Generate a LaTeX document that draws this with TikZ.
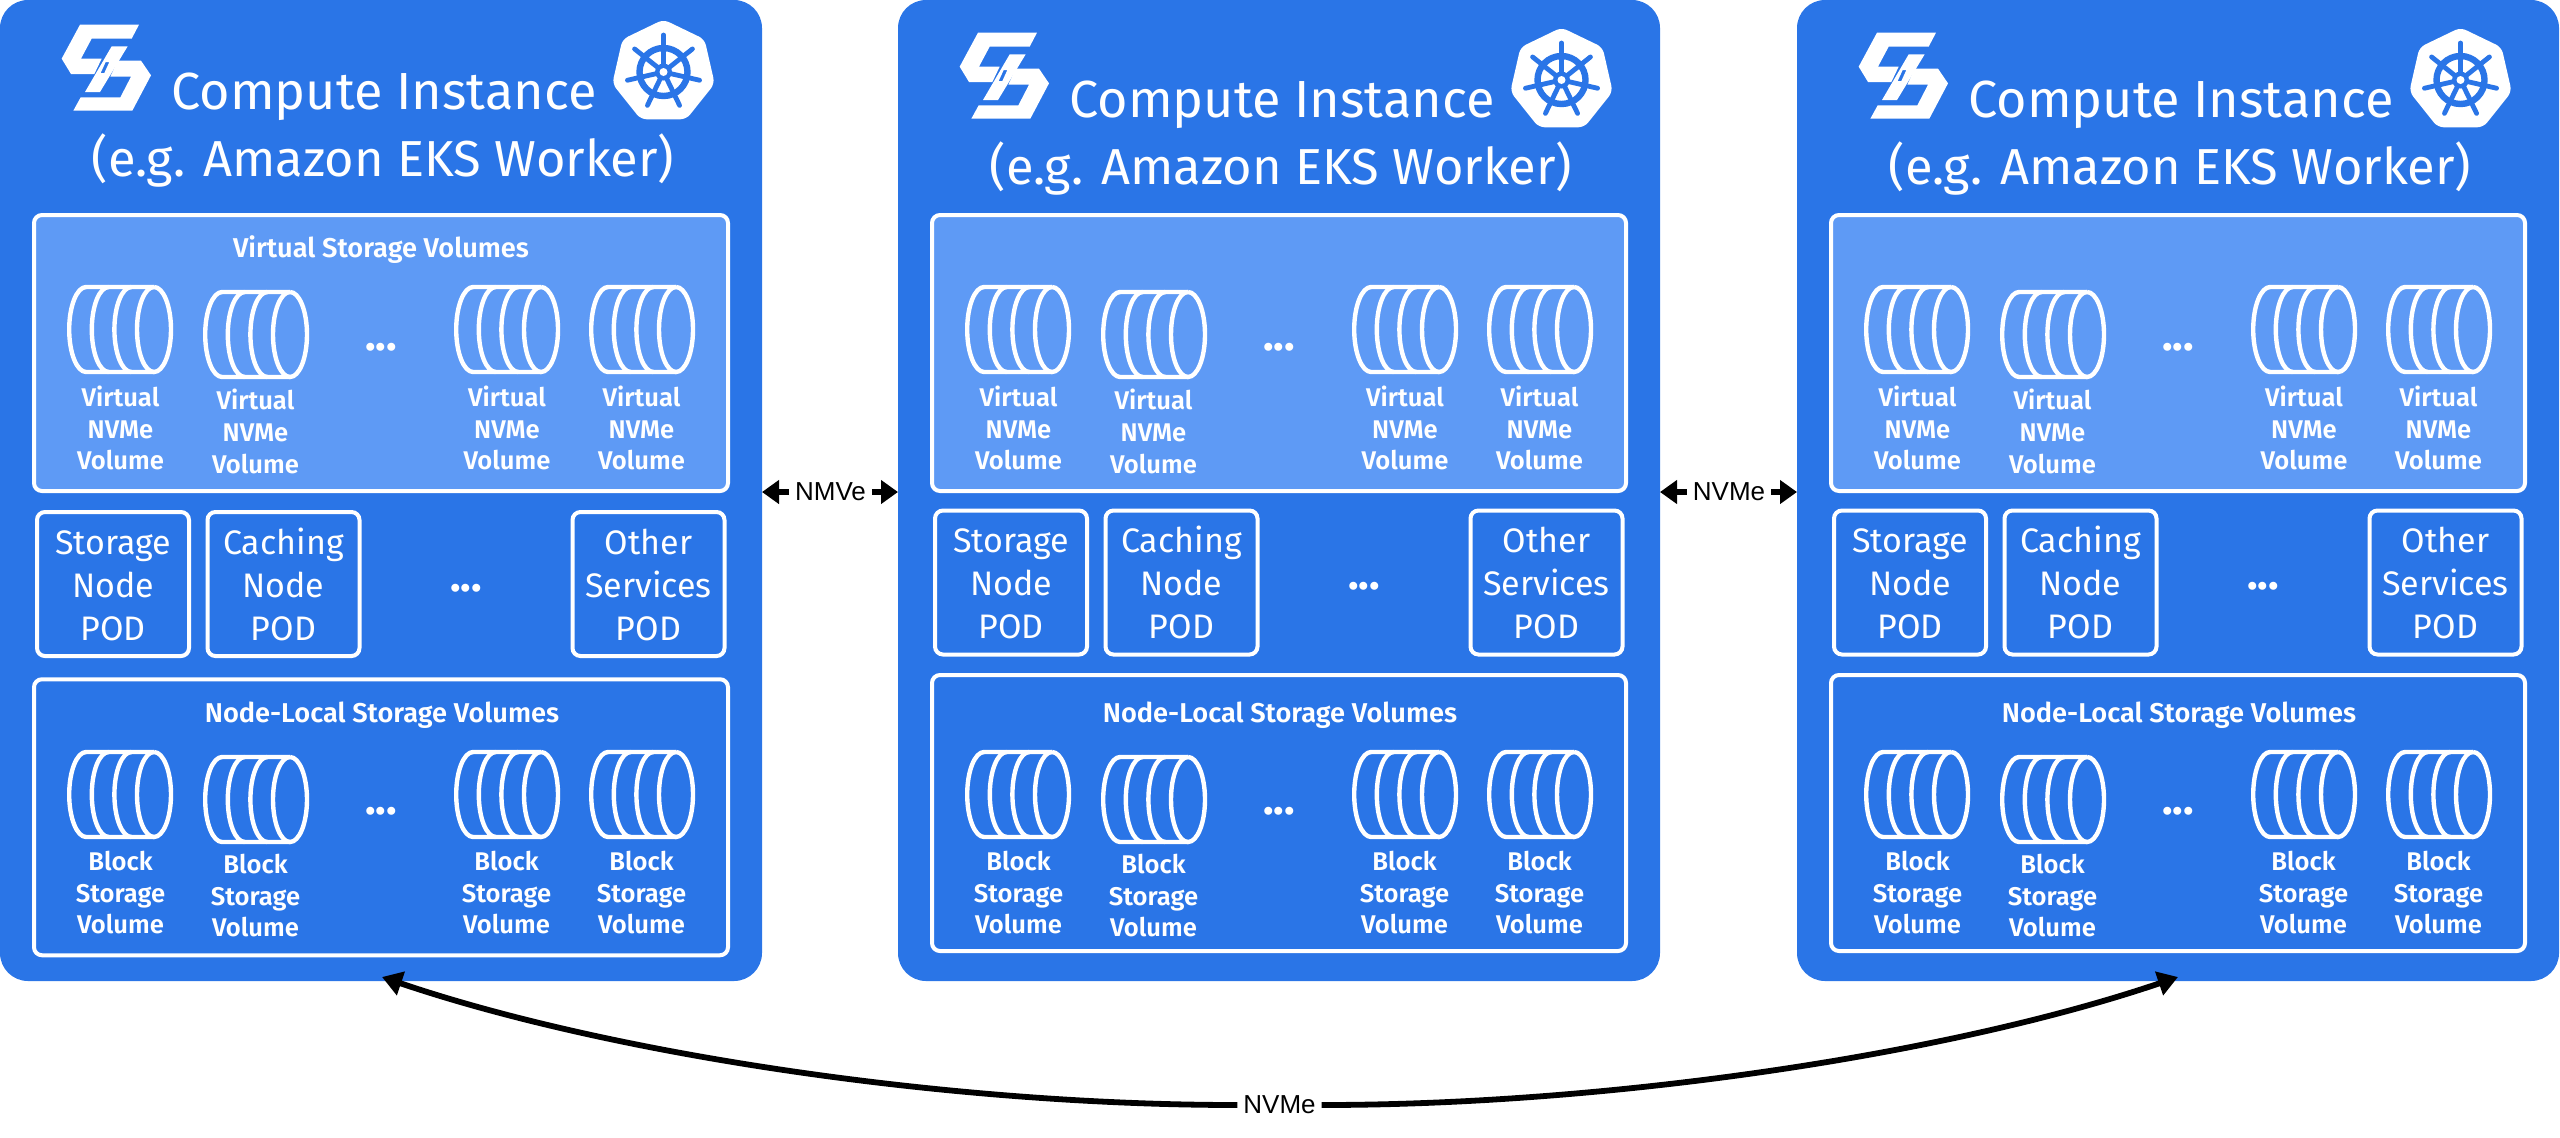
\documentclass[tikz,border=0pt]{standalone}
\usepackage{fontspec}
\usetikzlibrary{arrows.meta,calc}
\setmainfont{Fira Sans}
\newfontfamily\semib{Fira Sans SemiBold}
\newfontfamily\arr{Liberation Sans}
\definecolor{panelblue}{HTML}{2A75E7}
\definecolor{lightblue}{HTML}{5E9AF5}
\newcommand{\podtop}{\rule{0pt}{13.5pt}}
\tikzset{
  panelbox/.style={rectangle,fill=panelblue,rounded corners=14pt,minimum width=381pt,minimum height=490.5pt,inner sep=0pt,outer sep=0pt},
  framebox/.style={rectangle,draw=white,line width=2pt,rounded corners=4pt,minimum width=347pt,minimum height=138pt,inner sep=0pt,outer sep=0pt},
  podbox/.style={rectangle,draw=white,line width=2pt,rounded corners=4pt,minimum width=76pt,minimum height=72pt,inner sep=0pt,outer sep=0pt,
    text=white,align=center,font=\fontsize{17}{21.5}\selectfont},
  titletext/.style={anchor=base,text=white,inner sep=0pt,font=\fontsize{26.1}{30}\selectfont},
  subtext/.style={anchor=base,text=white,inner sep=0pt,font=\fontsize{25.3}{30}\selectfont},
  headtext/.style={anchor=base,text=white,inner sep=0pt,font=\semib\fontsize{13.6}{15}\selectfont},
  voltext/.style={anchor=base,text=white,inner sep=0pt,font=\semib\fontsize{12.8}{15}\selectfont},
  dotstext/.style={anchor=base,text=white,inner sep=0pt,font=\bfseries\fontsize{22}{24}\selectfont},
  cylline/.style={draw=white,line width=2.2pt},
  linklabel/.style={text=black,inner ysep=0pt,inner xsep=3pt,outer sep=0pt,font=\arr\fontsize{13}{15}\selectfont},
  shortlink/.style={draw=black,line width=3pt,-{Triangle[length=8.5pt,width=11.5pt]}},
  longlink/.style={draw=black,line width=2.9pt,-{Triangle[length=10pt,width=12pt]}}
}
% cylinder: outer top-left corner
\newcommand{\cylinder}[2]{%
  \begin{scope}[shift={(#1,#2)}]
    \draw[cylline] (87,2) arc[start angle=270,end angle=-90,x radius=17,y radius=42.5];
    \draw[cylline] (87,2) -- (19.2,2) arc[start angle=270,end angle=90,x radius=17,y radius=42.5] -- (87,87);
    \draw[cylline] (64.4,2) arc[start angle=270,end angle=90,x radius=17,y radius=42.5];
    \draw[cylline] (41.8,2) arc[start angle=270,end angle=90,x radius=17,y radius=42.5];
  \end{scope}}
\newcommand{\slogo}{%
  \begin{scope}[shift={(55,18)},x=0.16667pt,y=-0.16667pt]
    \fill[white] (75,20) -- (252,20) -- (230,62) -- (110,62) -- (78,122) -- (140,122) -- (118,168) -- (48,168) -- (20,122) -- cycle;
    \fill[white] (188,128) -- (258,128) -- (288,172) -- (232,278) -- (55,278) -- (77,238) -- (196,238) -- (228,176) -- (166,176) -- cycle;
    \fill[white,even odd rule] (170,85) -- (218,85) -- (135,222) -- (90,222) -- cycle
       (152,132) -- (163,132) -- (148,165) -- (137,165) -- cycle;
  \end{scope}}
\newcommand{\kubelogo}{%
  \begin{scope}[shift={(663.5,72)}]
    \fill[white,rounded corners=3pt] (270:52.5) \foreach \k in {1,...,6} { -- ({270+\k*360/7}:52.5) } -- cycle;
    \draw[panelblue,line width=3.2pt] (0,0) circle[radius=24];
    \foreach \k in {0,...,6} {
      \draw[panelblue,line width=2.4pt,line cap=round] (0,0) -- ({270+\k*360/7}:37);
    }
    \fill[panelblue] (0,0) circle[radius=8.5];
    \fill[white] (0,0) circle[radius=4];
  \end{scope}}
% #1 id, #2 x offset, #3 header shift, #4 pod centre y, #5 local box centre y, #6 virtual title
\newcommand{\computepanel}[6]{%
  \begin{scope}[shift={(#2,0)}]
    \node[panelbox] (#1) at (381,490.5) {};
    \begin{scope}[shift={(0,#3)}]
      \slogo
      \kubelogo
      \node[titletext] (#1title) at (384,109) {Compute Instance};
      \node[subtext] (#1sub) at (383,176) {(e.g. Amazon EKS Worker)};
    \end{scope}
    \node[framebox,fill=lightblue] (#1virt) at (381,353) {};
    #6
    \cylinder{67}{285}\cylinder{203}{290}\cylinder{454}{285}\cylinder{589}{285}
    \foreach \nm/\cx/\by in {a/120.5/406,b/255.5/409.5,c/507/406,d/641.5/406} {
      \node[voltext] (#1v\nm1) at (\cx,\by) {Virtual};
      \node[voltext] (#1v\nm2) at (\cx,\by+32) {NVMe};
      \node[voltext] (#1v\nm3) at (\cx,\by+63.5) {Volume};
    }
    \node[dotstext] (#1vdots) at (381,350) {...};
    \node[podbox] (#1storage) at (113,#4) {\podtop Storage\\Node\\POD};
    \node[podbox] (#1caching) at (283.5,#4) {\podtop Caching\\Node\\POD};
    \node[podbox] (#1other) at (648.5,#4) {\podtop Other\\Services\\POD};
    \node[dotstext] (#1pdots) at (466,#4+7) {...};
    \node[framebox] (#1local) at (381,#5) {};
    \node[headtext] (#1localtitle) at (382,722) {Node-Local Storage Volumes};
    \cylinder{67}{750}\cylinder{203}{755}\cylinder{454}{750}\cylinder{589}{750}
    \foreach \nm/\cx/\by in {a/120.5/870.5,b/255.5/873.5,c/506.5/870.5,d/641.5/870.5} {
      \node[voltext] (#1b\nm1) at (\cx,\by) {Block};
      \node[voltext] (#1b\nm2) at (\cx,\by+32) {Storage};
      \node[voltext] (#1b\nm3) at (\cx,\by+63) {Volume};
    }
    \node[dotstext] (#1bdots) at (381,814) {...};
  \end{scope}}
\begin{document}
\begin{tikzpicture}[x=0.5pt,y=-0.5pt]
  \useasboundingbox (0,0) rectangle (2560,1137);
  \computepanel{pa}{0}{0}{584}{817.25}{\node[headtext] (patitle) at (381,257.5) {Virtual Storage Volumes};}
  \computepanel{pb}{898}{8}{582.5}{813}{}
  \computepanel{pc}{1797}{8}{582.5}{813}{}
  % short links
  \node[linklabel] (nab) at (830.5,492) {NMVe};
  \draw[shortlink] (nab.west) -- (nab.west -| pa.east);
  \draw[shortlink] (nab.east) -- (nab.east -| pb.west);
  \node[linklabel] (nbc) at (1729,492) {NVMe};
  \draw[shortlink] (nbc.west) -- (nbc.west -| pb.east);
  \draw[shortlink] (nbc.east) -- (nbc.east -| pc.west);
  % long link
  \node[linklabel] (nac) at (1279.5,1105) {NVMe};
  \coordinate (tipa) at (382,977);
  \coordinate (tipc) at (2178,977);
  \draw[longlink] (nac.west) .. controls (950,1105) and (612,1055) .. (tipa);
  \draw[longlink] (nac.east) .. controls (1609,1105) and (1948,1055) .. (tipc);
\end{tikzpicture}
\end{document}
